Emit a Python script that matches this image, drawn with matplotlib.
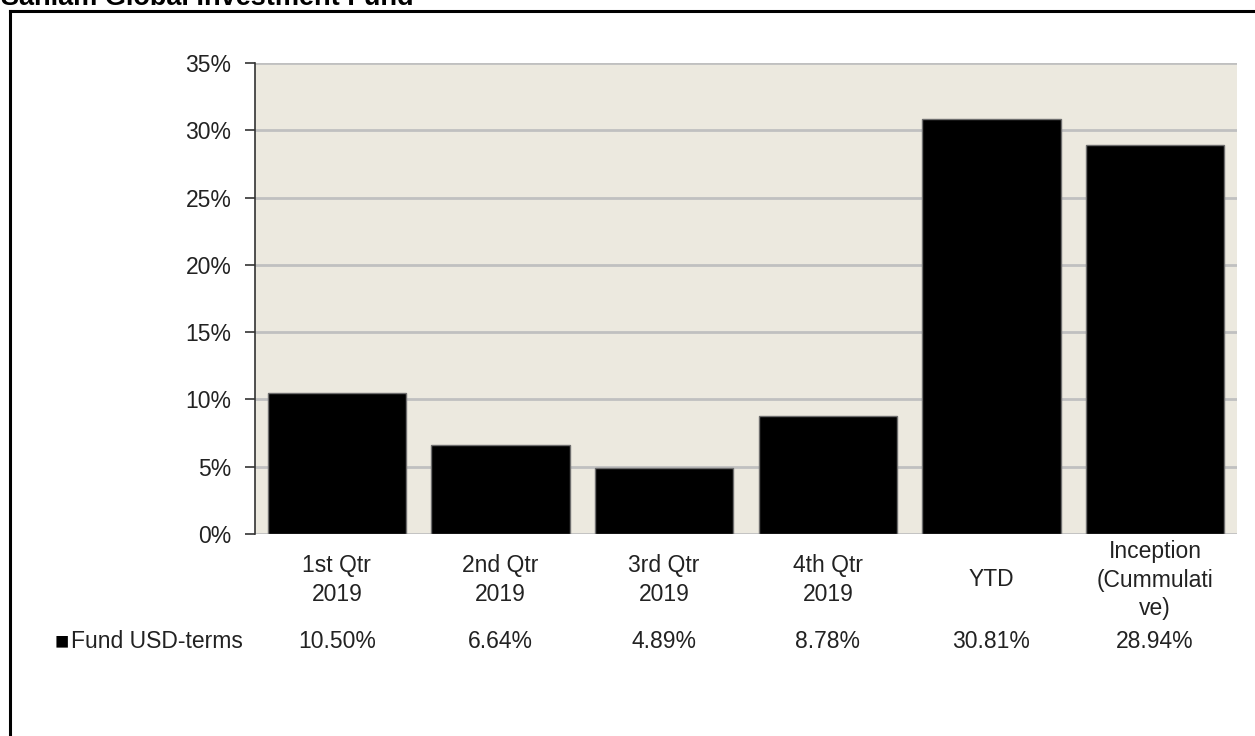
import matplotlib
matplotlib.use('Agg')
import matplotlib.pyplot as plt
import matplotlib.transforms as mtransforms
from matplotlib.lines import Line2D

plt.rcParams['font.family'] = ['Liberation Sans', 'DejaVu Sans']

# Chart data
categories = ['1st Qtr\n2019', '2nd Qtr\n2019', '3rd Qtr\n2019', '4th Qtr\n2019',
              'YTD', 'Inception\n(Cummulati\nve)']
fund_usd = [10.50, 6.64, 4.89, 8.78, 30.81, 28.94]
series_name = 'Fund USD-terms'
title = 'Sanlam Global Investment Fund'
yticks = [0, 5, 10, 15, 20, 25, 30, 35]

W, H = 1255, 736
fig = plt.figure(figsize=(W / 100, H / 100), dpi=100)
ax = fig.add_axes([255 / W, 1 - 534 / H, (1237 - 255) / W, (534 - 63) / H])

txt = '#222222'
fs = 16.5
x = list(range(len(categories)))
ax.set_facecolor('#ECE9DF')
ax.bar(x, fund_usd, width=0.845, color='black', edgecolor='#6e6e6e', linewidth=1, zorder=3)

ax.set_xlim(-0.5, len(categories) - 0.5)
ax.set_ylim(0, 35)
ax.set_yticks(yticks)
ax.set_yticklabels([f'{v}%' for v in yticks], fontsize=fs, color=txt)
ax.yaxis.grid(True, color='#C0C0C0', linewidth=2, zorder=0)
ax.set_axisbelow(True)
ax.set_xticks([])
ax.tick_params(axis='y', length=7, width=1.2, color='#333333', pad=10)
for s in ['top', 'right', 'bottom']:
    ax.spines[s].set_visible(False)
ax.spines['left'].set_color('#333333')
ax.spines['left'].set_linewidth(1.2)

# category labels and data table row
trans = mtransforms.blended_transform_factory(ax.transData, fig.transFigure)
for xi, cat, v in zip(x, categories, fund_usd):
    ax.text(xi, 1 - 580 / H, cat, transform=trans, ha='center', va='center',
            fontsize=fs, color=txt, linespacing=1.3)
    ax.text(xi, 1 - 642 / H, f'{v:.2f}%', transform=trans, ha='center', va='center',
            fontsize=fs, color=txt)

fig.text(55 / W, 1 - 642 / H, '\u25A0', ha='left', va='center', fontsize=17, color='black')
fig.text(71 / W, 1 - 642 / H, series_name, ha='left', va='center', fontsize=fs, color=txt)

# title cut at the top
fig.text(1 / W, 1 - 5 / H, title, ha='left', va='baseline', fontsize=19.5,
         fontweight='bold', color='black')

# outer frame (left and top edges)
fig.add_artist(Line2D([9.5 / W, 9.5 / W], [-0.01, 1 - 10.5 / H], transform=fig.transFigure,
                      color='black', linewidth=2.2))
fig.add_artist(Line2D([9.5 / W, 1.01], [1 - 10.5 / H, 1 - 10.5 / H], transform=fig.transFigure,
                      color='black', linewidth=2.2))

fig.savefig('out.png', dpi=100)
